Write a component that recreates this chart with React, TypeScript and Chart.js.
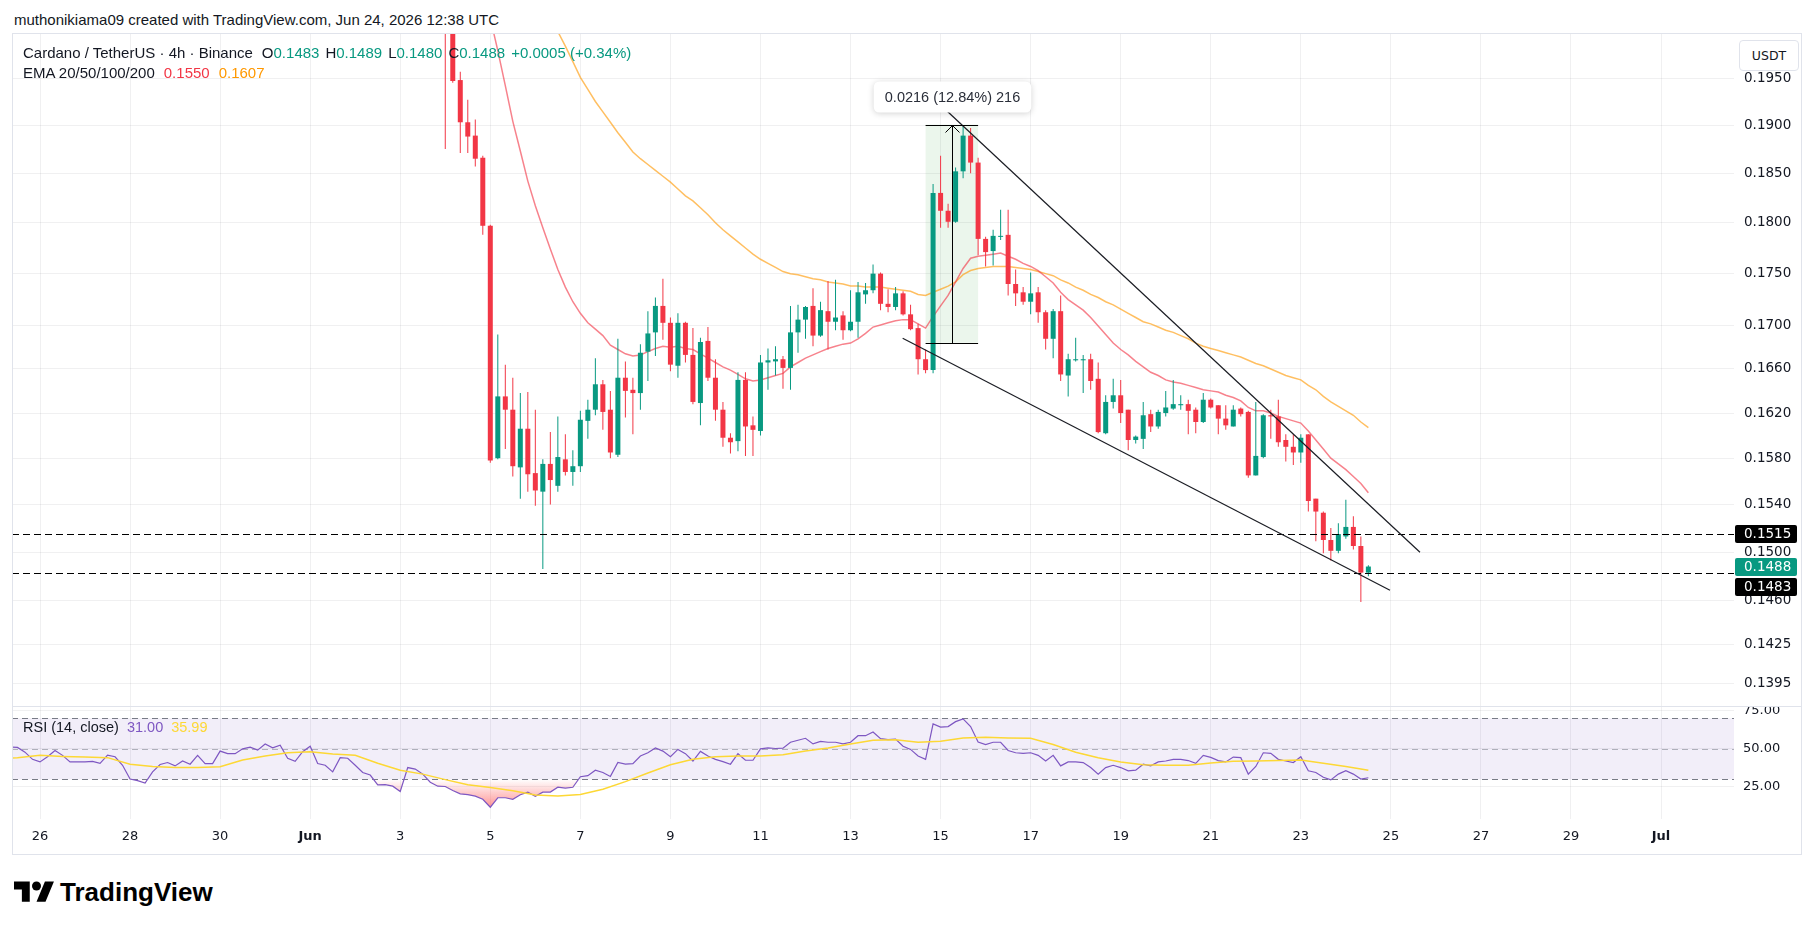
import React, { useEffect, useRef } from "react";
import { Chart, registerables } from "chart.js";

Chart.register(...registerables);

// ---------- time axis: day numbers (Jun 1 = 1, May 26 = -5, Jul 1 = 31) ----------
const firstBarDay = 4; // first candle: Jun 4, 00:00 UTC
const barsPerDay = 6; // 4h candles

// ---------- ADA/USDT 4h candles ----------
const opens = [
  0.2080, 0.2030, 0.1948, 0.1903, 0.1889, 0.1866, 0.1797, 0.1580, 0.1635, 0.1623,
  0.1572, 0.1606, 0.1567, 0.1551, 0.1575, 0.1556, 0.1579, 0.1568, 0.1573, 0.1613,
  0.1623, 0.1646, 0.1623, 0.1583, 0.1652, 0.1641, 0.1638, 0.1676, 0.1694, 0.1719,
  0.1703, 0.1663, 0.1703, 0.1673, 0.1629, 0.1686, 0.1652, 0.1623, 0.1598, 0.1595,
  0.1650, 0.1609, 0.1604, 0.1666, 0.1667, 0.1669, 0.1661, 0.1694, 0.1706, 0.1719,
  0.1691, 0.1714, 0.1704, 0.1710, 0.1696, 0.1704, 0.1730, 0.1734, 0.1750, 0.1721,
  0.1718, 0.1731, 0.1711, 0.1698, 0.1669, 0.1659, 0.1830, 0.1812, 0.1801, 0.1852,
  0.1889, 0.1861, 0.1784, 0.1772, 0.1786, 0.1788, 0.1740, 0.1732, 0.1723, 0.1732,
  0.1713, 0.1688, 0.1714, 0.1654, 0.1668, 0.1668, 0.1669, 0.1651, 0.1602, 0.1630,
  0.1636, 0.1623, 0.1596, 0.1597, 0.1619, 0.1608, 0.1620, 0.1624, 0.1627, 0.1628,
  0.1623, 0.1612, 0.1632, 0.1627, 0.1615, 0.1608, 0.1624, 0.1621, 0.1565, 0.1581,
  0.1618, 0.1617, 0.1596, 0.1590, 0.1585, 0.1601, 0.1545, 0.1533, 0.1510, 0.1501,
  0.1513, 0.1521, 0.1505, 0.1483,
];
const highs = [
  0.2095, 0.2040, 0.1957, 0.1927, 0.1906, 0.1868, 0.1798, 0.1692, 0.1664, 0.1652,
  0.1638, 0.1639, 0.1623, 0.1579, 0.1603, 0.1617, 0.1601, 0.1587, 0.1622, 0.1632,
  0.1670, 0.1650, 0.1640, 0.1688, 0.1667, 0.1652, 0.1683, 0.1714, 0.1727, 0.1745,
  0.1708, 0.1712, 0.1704, 0.1698, 0.1689, 0.1699, 0.1669, 0.1630, 0.1602, 0.1657,
  0.1657, 0.1617, 0.1673, 0.1679, 0.1681, 0.1672, 0.1719, 0.1720, 0.1719, 0.1736,
  0.1723, 0.1743, 0.1744, 0.1714, 0.1734, 0.1742, 0.1741, 0.1759, 0.1751, 0.1735,
  0.1737, 0.1733, 0.1720, 0.1702, 0.1678, 0.1839, 0.1868, 0.1819, 0.1856, 0.1900,
  0.1897, 0.1866, 0.1786, 0.1793, 0.1813, 0.1813, 0.1754, 0.1737, 0.1751, 0.1737,
  0.1715, 0.1716, 0.1729, 0.1674, 0.1689, 0.1673, 0.1674, 0.1666, 0.1636, 0.1651,
  0.1650, 0.1623, 0.1600, 0.1630, 0.1623, 0.1623, 0.1640, 0.1650, 0.1636, 0.1632,
  0.1625, 0.1638, 0.1633, 0.1627, 0.1627, 0.1627, 0.1625, 0.1622, 0.1630, 0.1619,
  0.1623, 0.1632, 0.1601, 0.1601, 0.1601, 0.1601, 0.1545, 0.1534, 0.1520, 0.1524,
  0.1544, 0.1530, 0.1513, 0.1489,
];
const lows = [
  0.1875, 0.1945, 0.1871, 0.1871, 0.1857, 0.1788, 0.1576, 0.1579, 0.1588, 0.1564,
  0.1545, 0.1551, 0.1539, 0.1486, 0.1540, 0.1551, 0.1565, 0.1556, 0.1568, 0.1597,
  0.1618, 0.1605, 0.1580, 0.1581, 0.1616, 0.1601, 0.1623, 0.1649, 0.1672, 0.1687,
  0.1658, 0.1652, 0.1666, 0.1628, 0.1609, 0.1649, 0.1613, 0.1590, 0.1584, 0.1586,
  0.1582, 0.1582, 0.1600, 0.1641, 0.1654, 0.1642, 0.1641, 0.1675, 0.1688, 0.1681,
  0.1690, 0.1678, 0.1696, 0.1687, 0.1695, 0.1689, 0.1721, 0.1731, 0.1715, 0.1713,
  0.1715, 0.1710, 0.1696, 0.1655, 0.1656, 0.1656, 0.1795, 0.1795, 0.1800, 0.1845,
  0.1850, 0.1768, 0.1757, 0.1758, 0.1783, 0.1729, 0.1719, 0.1720, 0.1711, 0.1703,
  0.1678, 0.1670, 0.1649, 0.1635, 0.1667, 0.1638, 0.1641, 0.1602, 0.1601, 0.1624,
  0.1611, 0.1587, 0.1593, 0.1588, 0.1603, 0.1606, 0.1617, 0.1623, 0.1623, 0.1601,
  0.1602, 0.1611, 0.1624, 0.1601, 0.1605, 0.1608, 0.1617, 0.1563, 0.1565, 0.1580,
  0.1597, 0.1590, 0.1577, 0.1574, 0.1576, 0.1534, 0.1509, 0.1499, 0.1493, 0.1499,
  0.1511, 0.1502, 0.1459, 0.1480,
];
const closes = [
  0.2030, 0.1947, 0.1903, 0.1888, 0.1865, 0.1797, 0.1578, 0.1635, 0.1623, 0.1573,
  0.1606, 0.1566, 0.1552, 0.1575, 0.1561, 0.1581, 0.1568, 0.1573, 0.1614, 0.1623,
  0.1646, 0.1621, 0.1585, 0.1652, 0.1640, 0.1638, 0.1675, 0.1693, 0.1719, 0.1703,
  0.1664, 0.1703, 0.1673, 0.1630, 0.1685, 0.1652, 0.1623, 0.1598, 0.1594, 0.1650,
  0.1608, 0.1605, 0.1666, 0.1668, 0.1669, 0.1661, 0.1694, 0.1706, 0.1718, 0.1691,
  0.1715, 0.1704, 0.1708, 0.1696, 0.1704, 0.1732, 0.1734, 0.1750, 0.1721, 0.1718,
  0.1731, 0.1711, 0.1697, 0.1669, 0.1659, 0.1830, 0.1812, 0.1801, 0.1852, 0.1889,
  0.1861, 0.1784, 0.1771, 0.1787, 0.1787, 0.1740, 0.1731, 0.1723, 0.1731, 0.1713,
  0.1688, 0.1714, 0.1655, 0.1669, 0.1669, 0.1669, 0.1649, 0.1603, 0.1630, 0.1636,
  0.1620, 0.1596, 0.1599, 0.1618, 0.1608, 0.1621, 0.1625, 0.1628, 0.1628, 0.1622,
  0.1612, 0.1632, 0.1625, 0.1615, 0.1609, 0.1623, 0.1619, 0.1565, 0.1582, 0.1618,
  0.1617, 0.1594, 0.1590, 0.1585, 0.1598, 0.1543, 0.1534, 0.1510, 0.1501, 0.1515,
  0.1521, 0.1505, 0.1483, 0.1488,
];

// ---------- EMA 20 / EMA 50 (one value per candle) ----------
const ema20 = [
  0.2140, 0.2120, 0.2103, 0.2087, 0.2071, 0.2050, 0.2016, 0.1980, 0.1942, 0.1904,
  0.1873, 0.1842, 0.1817, 0.1795, 0.1774, 0.1754, 0.1737, 0.1723, 0.1712, 0.1703,
  0.1697, 0.1691, 0.1682, 0.1678, 0.1674, 0.1672, 0.1673, 0.1676, 0.1679, 0.1681,
  0.1680, 0.1681, 0.1679, 0.1678, 0.1674, 0.1670, 0.1666, 0.1662, 0.1659, 0.1655,
  0.1651, 0.1649, 0.1650, 0.1652, 0.1654, 0.1656, 0.1662, 0.1666, 0.1670, 0.1673,
  0.1676, 0.1679, 0.1681, 0.1683, 0.1684, 0.1688, 0.1693, 0.1699, 0.1701, 0.1703,
  0.1705, 0.1706, 0.1706, 0.1702, 0.1698, 0.1709, 0.1719, 0.1729, 0.1742, 0.1755,
  0.1765, 0.1767, 0.1768, 0.1769, 0.1770, 0.1767, 0.1764, 0.1760, 0.1757, 0.1753,
  0.1747, 0.1741, 0.1732, 0.1725, 0.1720, 0.1715, 0.1708, 0.1700, 0.1692, 0.1684,
  0.1678, 0.1673, 0.1667, 0.1662, 0.1657, 0.1654, 0.1650, 0.1648, 0.1647, 0.1645,
  0.1643, 0.1641, 0.1640, 0.1639, 0.1636, 0.1634, 0.1631, 0.1625, 0.1622, 0.1622,
  0.1620, 0.1617, 0.1615, 0.1613, 0.1611, 0.1604, 0.1596, 0.1588, 0.1580, 0.1575,
  0.1570, 0.1564, 0.1558, 0.1550,
];
const ema50 = [
  0.2200, 0.2197, 0.2193, 0.2187, 0.2180, 0.2173, 0.2164, 0.2145, 0.2126, 0.2108,
  0.2088, 0.2070, 0.2052, 0.2034, 0.2018, 0.2001, 0.1985, 0.1968, 0.1951, 0.1938,
  0.1925, 0.1914, 0.1903, 0.1892, 0.1882, 0.1872, 0.1865, 0.1859, 0.1853, 0.1847,
  0.1841, 0.1834, 0.1827, 0.1822, 0.1815, 0.1808, 0.1800, 0.1793, 0.1787, 0.1781,
  0.1775, 0.1769, 0.1764, 0.1760, 0.1756, 0.1752, 0.1750, 0.1749, 0.1747, 0.1745,
  0.1744, 0.1742, 0.1741, 0.1740, 0.1738, 0.1738, 0.1737, 0.1737, 0.1737, 0.1736,
  0.1735, 0.1734, 0.1733, 0.1730, 0.1729, 0.1732, 0.1735, 0.1738, 0.1742, 0.1749,
  0.1753, 0.1755, 0.1756, 0.1757, 0.1757, 0.1757, 0.1756, 0.1755, 0.1754, 0.1752,
  0.1750, 0.1748, 0.1744, 0.1741, 0.1737, 0.1734, 0.1730, 0.1727, 0.1723, 0.1720,
  0.1716, 0.1712, 0.1708, 0.1704, 0.1702, 0.1699, 0.1696, 0.1694, 0.1691, 0.1688,
  0.1684, 0.1681, 0.1679, 0.1677, 0.1675, 0.1673, 0.1671, 0.1668, 0.1665, 0.1663,
  0.1660, 0.1657, 0.1654, 0.1652, 0.1650, 0.1645, 0.1641, 0.1635, 0.1630, 0.1626,
  0.1622, 0.1618, 0.1612, 0.1607,
];

// ---------- RSI(14) and its moving average ----------
const rsiFirstBar = -58; // bar offset from the first candle
const rsiValues = [
  51.1, 50.9, 47.8, 43.1, 41.4, 44.8, 48.9, 45.7, 41.4, 41.4,
  41.4, 41.8, 40.5, 45.9, 44.8, 39.2, 30.2, 29.1, 27.6, 34.9,
  39.7, 41.0, 38.8, 42.0, 39.9, 45.7, 40.3, 40.3, 48.5, 46.8,
  46.8, 50.0, 51.1, 49.1, 53.2, 50.6, 52.4, 43.8, 41.8, 48.1,
  51.7, 40.3, 39.2, 34.9, 44.2, 43.8, 39.2, 34.5, 32.8, 26.3,
  26.5, 25.5, 22.0, 37.7, 36.7, 33.4, 28.1, 25.5, 25.3, 22.7,
  20.5, 19.9, 19.0, 16.9, 11.7, 17.9, 17.9, 16.9, 19.9, 21.6,
  18.8, 21.6, 21.6, 24.8, 24.2, 24.8, 31.7, 32.4, 36.0, 34.5,
  31.9, 41.0, 39.9, 40.3, 45.3, 47.4, 50.6, 48.5, 44.8, 49.6,
  46.8, 42.0, 48.3, 45.3, 43.1, 41.6, 39.9, 46.8, 42.5, 42.5,
  50.0, 50.6, 50.2, 50.4, 54.3, 55.6, 56.9, 53.2, 54.9, 54.3,
  54.3, 53.2, 54.3, 58.6, 58.6, 61.0, 56.7, 56.0, 56.4, 51.7,
  49.6, 45.3, 43.1, 66.3, 64.2, 64.6, 67.8, 69.6, 64.6, 54.5,
  52.8, 54.3, 54.3, 48.9, 47.4, 47.0, 47.4, 45.7, 42.0, 45.7,
  38.8, 41.4, 41.4, 41.0, 37.7, 33.4, 37.7, 39.2, 37.7, 35.6,
  36.0, 39.9, 38.8, 41.4, 42.0, 43.1, 43.1, 42.3, 40.5, 45.7,
  44.4, 42.3, 41.4, 44.6, 44.2, 33.4, 38.4, 47.4, 47.0, 43.1,
  42.0, 41.0, 44.8, 35.6, 34.5, 31.3, 29.6, 33.4, 35.6, 33.4,
  30.2, 31.0,
];
const rsiMaFirstBar = -60;
const rsiMaEvery = 3; // one reading every 3 bars
const rsiMaValues = [
  43.5, 44.2, 45.7, 45.0, 44.6, 44.2, 39.9, 38.4, 37.7, 37.7,
  38.2, 42.7, 45.3, 47.4, 48.1, 46.6, 45.7, 40.5, 36.0, 33.4,
  29.8, 26.5, 24.6, 22.5, 19.7, 19.0, 20.1, 23.5, 28.5, 34.1,
  39.5, 43.1, 44.8, 45.3, 45.3, 46.1, 48.5, 50.6, 53.2, 55.6,
  56.0, 54.3, 54.9, 57.1, 57.5, 57.1, 56.9, 52.8, 47.8, 44.2,
  41.4, 39.5, 39.2, 39.2, 40.7, 41.8, 42.0, 42.3, 42.7, 40.5,
  38.4, 35.99,
];

// ---------- axes ----------
const dateTickValues = [-5, -3, -1, 1, 3, 5, 7, 9, 11, 13, 15, 17, 19, 21, 23, 25, 27, 29, 31];
const dateTickLabels = ["26", "28", "30", "Jun", "3", "5", "7", "9", "11", "13", "15", "17", "19", "21", "23", "25", "27", "29", "Jul"];
const priceTicks = [0.1395, 0.1425, 0.146, 0.15, 0.154, 0.158, 0.162, 0.166, 0.17, 0.175, 0.18, 0.185, 0.19, 0.195];
const rsiTicks = [25, 50, 75];

// ---------- drawings ----------
const keyLevels = [0.1515, 0.1483];
const upperTrendDays = [15.136, 25.646];
const upperTrendPrices = [0.19152, 0.14998];
const lowerTrendDays = [14.158, 24.98];
const lowerTrendPrices = [0.16885, 0.14686];
const measureDays = [14.667, 15.833];
const measurePrices = [0.16843, 0.19006];

// ---------- visible window ----------
const dayMin = -5.622;
const dayMax = 32.62;
const priceMin = 0.137741;
const priceMax = 0.199944;
const rsiMin = 3.97;
const rsiMax = 78.07;

// ---------- look ----------
const GREEN = "#089981";
const RED = "#F23645";
const TEXT = "#131722";
const GRID = "rgba(42,46,57,0.07)";
const FRAME = "#E0E3EB";
const EMA20_COLOR = "rgba(242,54,69,0.62)";
const EMA50_COLOR = "rgba(255,152,0,0.62)";
const RSI_COLOR = "#7E57C2";
const RSI_MA_COLOR = "#FDD835";
const UI_FONT = '"Liberation Sans", Arial, sans-serif';
const AXIS_FONT = '"DejaVu Sans", sans-serif';
const AXIS_SIZE = 13.5;

const PAGE_W = 1814;
const PAGE_H = 930;
const FRAME_L = 12;
const FRAME_T = 33;
const FRAME_R = 1801;
const FRAME_B = 854;
const PANE_SPLIT = 706;
const PRICE_AXIS_W = 67;
const DATE_AXIS_H = 35;

const barDay = (k: number) => firstBarDay + k / barsPerDay;
const fmt4 = (v: number) => v.toFixed(4);

const lastIdx = closes.length - 1;
const lastChange = closes[lastIdx] - closes[lastIdx - 1];
const lastChangePct = (lastChange / closes[lastIdx - 1]) * 100;
const measureDiff = measurePrices[1] - measurePrices[0];
const measureLabel = `${measureDiff.toFixed(4)} (${((measureDiff / measurePrices[0]) * 100).toFixed(2)}%) ${Math.round(measureDiff * 10000)}`;

function roundRect(ctx: CanvasRenderingContext2D, x: number, y: number, w: number, h: number, r: number) {
  ctx.beginPath();
  ctx.moveTo(x + r, y);
  ctx.lineTo(x + w - r, y);
  ctx.quadraticCurveTo(x + w, y, x + w, y + r);
  ctx.lineTo(x + w, y + h - r);
  ctx.quadraticCurveTo(x + w, y + h, x + w - r, y + h);
  ctx.lineTo(x + r, y + h);
  ctx.quadraticCurveTo(x, y + h, x, y + h - r);
  ctx.lineTo(x, y + r);
  ctx.quadraticCurveTo(x, y, x + r, y);
  ctx.closePath();
}

// Drawings on the price pane: measure zone, key levels, channel lines, axis price tags
const pricePaneDrawings = {
  id: "pricePaneDrawings",
  beforeDatasetsDraw(chart: any) {
    const { ctx, scales } = chart;
    const x0 = scales.x.getPixelForValue(measureDays[0]);
    const x1 = scales.x.getPixelForValue(measureDays[1]);
    const yTop = scales.y.getPixelForValue(measurePrices[1]);
    const yBot = scales.y.getPixelForValue(measurePrices[0]);
    ctx.save();
    ctx.fillStyle = "rgba(76,175,80,0.11)";
    ctx.fillRect(x0, yTop, x1 - x0, yBot - yTop);
    ctx.restore();
  },
  afterDatasetsDraw(chart: any) {
    const { ctx, chartArea: a, scales } = chart;
    const { x, y } = scales;
    ctx.save();
    ctx.beginPath();
    ctx.rect(a.left, a.top, a.width, a.height);
    ctx.clip();

    // horizontal key levels
    ctx.strokeStyle = "#000";
    ctx.lineWidth = 1.2;
    ctx.setLineDash([7, 4]);
    keyLevels.forEach((p) => {
      const py = Math.round(y.getPixelForValue(p)) + 0.5;
      ctx.beginPath();
      ctx.moveTo(a.left, py);
      ctx.lineTo(a.right, py);
      ctx.stroke();
    });
    ctx.setLineDash([]);

    // falling channel
    ctx.strokeStyle = "#1b1d24";
    ctx.lineWidth = 1.2;
    [
      [upperTrendDays, upperTrendPrices],
      [lowerTrendDays, lowerTrendPrices],
    ].forEach(([ds, ps]) => {
      ctx.beginPath();
      ctx.moveTo(x.getPixelForValue(ds[0]), y.getPixelForValue(ps[0]));
      ctx.lineTo(x.getPixelForValue(ds[1]), y.getPixelForValue(ps[1]));
      ctx.stroke();
    });

    // measure zone outline and arrow
    const x0 = x.getPixelForValue(measureDays[0]);
    const x1 = x.getPixelForValue(measureDays[1]);
    const cx = Math.round((x0 + x1) / 2) + 0.5;
    const yTop = Math.round(y.getPixelForValue(measurePrices[1])) + 0.5;
    const yBot = Math.round(y.getPixelForValue(measurePrices[0])) + 0.5;
    ctx.strokeStyle = "#000";
    ctx.lineWidth = 1;
    ctx.beginPath();
    ctx.moveTo(x0, yTop);
    ctx.lineTo(x1, yTop);
    ctx.moveTo(x0, yBot);
    ctx.lineTo(x1, yBot);
    ctx.moveTo(cx, yBot);
    ctx.lineTo(cx, yTop);
    ctx.moveTo(cx - 7, yTop + 7);
    ctx.lineTo(cx, yTop);
    ctx.lineTo(cx + 7, yTop + 7);
    ctx.stroke();
    ctx.restore();

    // measure label
    ctx.save();
    ctx.font = `14.5px ${UI_FONT}`;
    const tw = ctx.measureText(measureLabel).width;
    const bw = tw + 22;
    const bh = 31;
    const bx = cx - bw / 2;
    const by = yTop - 13 - bh;
    ctx.shadowColor = "rgba(0,0,0,0.18)";
    ctx.shadowBlur = 6;
    ctx.shadowOffsetY = 1;
    ctx.fillStyle = "#fff";
    roundRect(ctx, bx, by, bw, bh, 6);
    ctx.fill();
    ctx.shadowColor = "transparent";
    ctx.fillStyle = "#2A2E39";
    ctx.textBaseline = "middle";
    ctx.textAlign = "center";
    ctx.fillText(measureLabel, cx, by + bh / 2 + 0.5);
    ctx.restore();
  },
  afterDraw(chart: any) {
    const { ctx, chartArea: a, scales } = chart;
    const y = scales.y;
    const h = 18;
    const tags: { v: number; bg: string; cy: number }[] = [
      { v: closes[lastIdx], bg: GREEN, cy: y.getPixelForValue(closes[lastIdx]) },
      ...keyLevels.map((v) => ({ v, bg: "#000", cy: y.getPixelForValue(v) })),
    ];
    const placed: { cy: number }[] = [tags[0]];
    tags.slice(1).forEach((t) => {
      placed.forEach((p) => {
        if (Math.abs(t.cy - p.cy) < h + 2) t.cy = t.cy >= p.cy ? p.cy + h + 2 : p.cy - h - 2;
      });
      placed.push(t);
    });
    ctx.save();
    ctx.font = `${AXIS_SIZE}px ${AXIS_FONT}`;
    ctx.textBaseline = "middle";
    ctx.textAlign = "left";
    tags.forEach((t) => {
      ctx.fillStyle = t.bg;
      roundRect(ctx, a.right + 1, Math.round(t.cy - h / 2), 62, h, 2);
      ctx.fill();
      ctx.fillStyle = "#fff";
      ctx.fillText(fmt4(t.v), a.right + 10, Math.round(t.cy) + 0.5);
    });
    ctx.restore();
  },
};

// RSI pane: 30–70 band, guide lines and oversold fill
const rsiPaneDrawings = {
  id: "rsiPaneDrawings",
  beforeDatasetsDraw(chart: any) {
    const { ctx, chartArea: a, scales } = chart;
    const y = scales.y;
    const y70 = y.getPixelForValue(70);
    const y50 = y.getPixelForValue(50);
    const y30 = y.getPixelForValue(30);
    ctx.save();
    ctx.fillStyle = "rgba(126,87,194,0.1)";
    ctx.fillRect(a.left, y70, a.width, y30 - y70);

    // oversold gradient fill between RSI and the 30 line
    const pts = chart.getDatasetMeta(1).data;
    ctx.save();
    ctx.beginPath();
    ctx.rect(a.left, y30, a.width, a.bottom - y30);
    ctx.clip();
    const g = ctx.createLinearGradient(0, y30, 0, y.getPixelForValue(0));
    g.addColorStop(0, "rgba(255,82,82,0)");
    g.addColorStop(1, "rgba(255,82,82,1)");
    ctx.fillStyle = g;
    ctx.beginPath();
    pts.forEach((p: any, i: number) => (i === 0 ? ctx.moveTo(p.x, p.y) : ctx.lineTo(p.x, p.y)));
    ctx.lineTo(pts[pts.length - 1].x, y30);
    ctx.lineTo(pts[0].x, y30);
    ctx.closePath();
    ctx.fill();
    ctx.restore();

    ctx.lineWidth = 1;
    ctx.setLineDash([6, 4]);
    [
      [y70, "#787B86"],
      [y50, "rgba(120,123,134,0.55)"],
      [y30, "#787B86"],
    ].forEach(([py, c]: any) => {
      ctx.strokeStyle = c;
      ctx.beginPath();
      ctx.moveTo(a.left, Math.round(py) + 0.5);
      ctx.lineTo(a.right, Math.round(py) + 0.5);
      ctx.stroke();
    });
    ctx.restore();
  },
};

const dateAxis = (withLabels: boolean) => ({
  type: "linear",
  min: dayMin,
  max: dayMax,
  bounds: "data",
  offset: false,
  afterBuildTicks: (s: any) => {
    s.ticks = dateTickValues.map((v) => ({ value: v }));
  },
  afterFit: (s: any) => {
    s.height = withLabels ? DATE_AXIS_H : 0;
    s.paddingLeft = 0;
    s.paddingRight = 0;
  },
  grid: { color: GRID, drawTicks: false, offset: false },
  border: { display: false },
  ticks: withLabels
    ? {
        display: true,
        autoSkip: false,
        maxRotation: 0,
        padding: 10,
        color: TEXT,
        font: (c: any) => ({
          family: AXIS_FONT,
          size: 13,
          weight: c.tick && (c.tick.value === 1 || c.tick.value === 31) ? "bold" : "normal",
        }),
        callback: (v: any) => dateTickLabels[dateTickValues.indexOf(Number(v))] ?? "",
      }
    : { display: false },
});

export default function App() {
  const priceRef = useRef<HTMLCanvasElement>(null);
  const rsiRef = useRef<HTMLCanvasElement>(null);

  useEffect(() => {
    const days = opens.map((_, i) => barDay(i));
    const colors = opens.map((o, i) => (closes[i] >= o ? GREEN : RED));

    const priceChart = new Chart(priceRef.current as HTMLCanvasElement, {
      type: "bar",
      data: {
        datasets: [
          {
            type: "bar",
            label: "Body",
            data: days.map((d, i) => ({ x: d, y: [Math.min(opens[i], closes[i]), Math.max(opens[i], closes[i])] })),
            backgroundColor: colors,
            borderWidth: 0,
            grouped: false,
            maxBarThickness: 5,
            minBarLength: 1,
            inflateAmount: 0,
            order: 1,
          },
          {
            type: "bar",
            label: "Wick",
            data: days.map((d, i) => ({ x: d, y: [lows[i], highs[i]] })),
            backgroundColor: colors,
            borderWidth: 0,
            grouped: false,
            maxBarThickness: 1,
            inflateAmount: 0,
            order: 2,
          },
          {
            type: "line",
            label: "EMA 20",
            data: days.map((d, i) => ({ x: d, y: ema20[i] })),
            borderColor: EMA20_COLOR,
            borderWidth: 1.5,
            pointRadius: 0,
            order: 3,
          },
          {
            type: "line",
            label: "EMA 50",
            data: days.map((d, i) => ({ x: d, y: ema50[i] })),
            borderColor: EMA50_COLOR,
            borderWidth: 1.5,
            pointRadius: 0,
            order: 4,
          },
        ],
      } as any,
      options: {
        responsive: false,
        animation: false,
        events: [],
        layout: { padding: 0 },
        plugins: { legend: { display: false }, tooltip: { enabled: false } },
        scales: {
          x: dateAxis(false),
          y: {
            type: "logarithmic",
            position: "right",
            min: priceMin,
            max: priceMax,
            bounds: "data",
            afterBuildTicks: (s: any) => {
              s.ticks = priceTicks.map((v) => ({ value: v }));
            },
            afterFit: (s: any) => {
              s.width = PRICE_AXIS_W;
              s.paddingTop = 0;
              s.paddingBottom = 0;
            },
            grid: { color: GRID, drawTicks: false },
            border: { display: false },
            ticks: {
              autoSkip: false,
              padding: 10,
              color: TEXT,
              font: { family: AXIS_FONT, size: AXIS_SIZE },
              callback: (v: any) => fmt4(Number(v)),
            },
          },
        },
      } as any,
      plugins: [pricePaneDrawings],
    });

    const rsiChart = new Chart(rsiRef.current as HTMLCanvasElement, {
      type: "line",
      data: {
        datasets: [
          {
            label: "RSI-based MA",
            data: rsiMaValues.map((v, i) => ({ x: barDay(rsiMaFirstBar + i * rsiMaEvery), y: v })),
            borderColor: RSI_MA_COLOR,
            borderWidth: 1.5,
            pointRadius: 0,
            order: 1,
          },
          {
            label: "RSI",
            data: rsiValues.map((v, i) => ({ x: barDay(rsiFirstBar + i), y: v })),
            borderColor: RSI_COLOR,
            borderWidth: 1.2,
            pointRadius: 0,
            order: 2,
          },
        ],
      } as any,
      options: {
        responsive: false,
        animation: false,
        events: [],
        layout: { padding: 0 },
        plugins: { legend: { display: false }, tooltip: { enabled: false } },
        scales: {
          x: dateAxis(true),
          y: {
            type: "linear",
            position: "right",
            min: rsiMin,
            max: rsiMax,
            bounds: "data",
            afterBuildTicks: (s: any) => {
              s.ticks = rsiTicks.map((v) => ({ value: v }));
            },
            afterFit: (s: any) => {
              s.width = PRICE_AXIS_W;
              s.paddingTop = 0;
              s.paddingBottom = 0;
            },
            grid: { color: GRID, drawTicks: false },
            border: { display: false },
            ticks: {
              autoSkip: false,
              padding: 9,
              color: TEXT,
              font: { family: AXIS_FONT, size: 13 },
              callback: (v: any) => Number(v).toFixed(2),
            },
          },
        },
      } as any,
      plugins: [rsiPaneDrawings],
    });

    return () => {
      priceChart.destroy();
      rsiChart.destroy();
    };
  }, []);

  const paneW = FRAME_R - FRAME_L;
  const green = { color: GREEN };
  const gap = { marginLeft: 6 };

  return (
    <div
      style={{
        position: "absolute",
        left: 0,
        top: 0,
        width: PAGE_W,
        height: PAGE_H,
        background: "#fff",
        overflow: "hidden",
        fontFamily: UI_FONT,
        color: TEXT,
      }}
    >
      <div style={{ position: "absolute", left: 14, top: 10, fontSize: 15, lineHeight: "20px", whiteSpace: "nowrap" }}>
        muthonikiama09 created with TradingView.com, Jun 24, 2026 12:38 UTC
      </div>

      <canvas
        ref={priceRef}
        width={paneW}
        height={PANE_SPLIT - FRAME_T}
        style={{ position: "absolute", left: FRAME_L, top: FRAME_T, width: paneW, height: PANE_SPLIT - FRAME_T }}
      />
      <canvas
        ref={rsiRef}
        width={paneW}
        height={FRAME_B - PANE_SPLIT}
        style={{ position: "absolute", left: FRAME_L, top: PANE_SPLIT, width: paneW, height: FRAME_B - PANE_SPLIT }}
      />

      {/* frame and pane separator */}
      <div
        style={{
          position: "absolute",
          left: FRAME_L,
          top: FRAME_T,
          width: paneW + 1,
          height: FRAME_B - FRAME_T + 1,
          border: `1px solid ${FRAME}`,
          boxSizing: "border-box",
          pointerEvents: "none",
        }}
      />
      <div style={{ position: "absolute", left: FRAME_L, top: PANE_SPLIT, width: paneW + 1, height: 1, background: FRAME }} />

      {/* symbol legend */}
      <div style={{ position: "absolute", left: 23, top: 43, fontSize: 15, lineHeight: "20px", whiteSpace: "nowrap" }}>
        <span>Cardano / TetherUS · 4h · Binance</span>
        <span style={{ marginLeft: 9 }}>
          O<span style={green}>{fmt4(opens[lastIdx])}</span>
        </span>
        <span style={gap}>
          H<span style={green}>{fmt4(highs[lastIdx])}</span>
        </span>
        <span style={gap}>
          L<span style={green}>{fmt4(lows[lastIdx])}</span>
        </span>
        <span style={gap}>
          C<span style={green}>{fmt4(closes[lastIdx])}</span>
        </span>
        <span style={{ ...gap, color: GREEN }}>
          {(lastChange >= 0 ? "+" : "") + lastChange.toFixed(4)} ({(lastChangePct >= 0 ? "+" : "") + lastChangePct.toFixed(2)}%)
        </span>
      </div>
      <div style={{ position: "absolute", left: 23, top: 63, fontSize: 15, lineHeight: "20px", whiteSpace: "nowrap" }}>
        <span>EMA 20/50/100/200</span>
        <span style={{ marginLeft: 9, color: RED }}>{fmt4(ema20[ema20.length - 1])}</span>
        <span style={{ marginLeft: 9, color: "#FF9800" }}>{fmt4(ema50[ema50.length - 1])}</span>
      </div>

      {/* RSI legend */}
      <div style={{ position: "absolute", left: 23, top: 717, fontSize: 14.5, lineHeight: "20px", whiteSpace: "nowrap" }}>
        <span>RSI (14, close)</span>
        <span style={{ marginLeft: 8, color: RSI_COLOR }}>{rsiValues[rsiValues.length - 1].toFixed(2)}</span>
        <span style={{ marginLeft: 8, color: RSI_MA_COLOR }}>{rsiMaValues[rsiMaValues.length - 1].toFixed(2)}</span>
      </div>

      {/* currency button */}
      <div
        style={{
          position: "absolute",
          left: 1739,
          top: 40,
          width: 60,
          height: 31,
          boxSizing: "border-box",
          border: `1px solid ${FRAME}`,
          borderRadius: 4,
          background: "#fff",
          fontFamily: AXIS_FONT,
          fontSize: 12.5,
          lineHeight: "29px",
          textAlign: "center",
        }}
      >
        USDT
      </div>

      {/* TradingView mark */}
      <svg width={40.5} height={31.5} viewBox="0 0 36 28" style={{ position: "absolute", left: 14, top: 877 }}>
        <path d="M14 22H7V11H0V4h14v18zM28 22h-8l7.5-18h8L28 22z" fill="#000" />
        <circle cx="20" cy="8" r="4" fill="#000" />
      </svg>
      <div
        style={{
          position: "absolute",
          left: 60,
          top: 879,
          fontSize: 26,
          lineHeight: "26px",
          fontWeight: 700,
          letterSpacing: 0,
          color: "#000",
          whiteSpace: "nowrap",
        }}
      >
        TradingView
      </div>
    </div>
  );
}
